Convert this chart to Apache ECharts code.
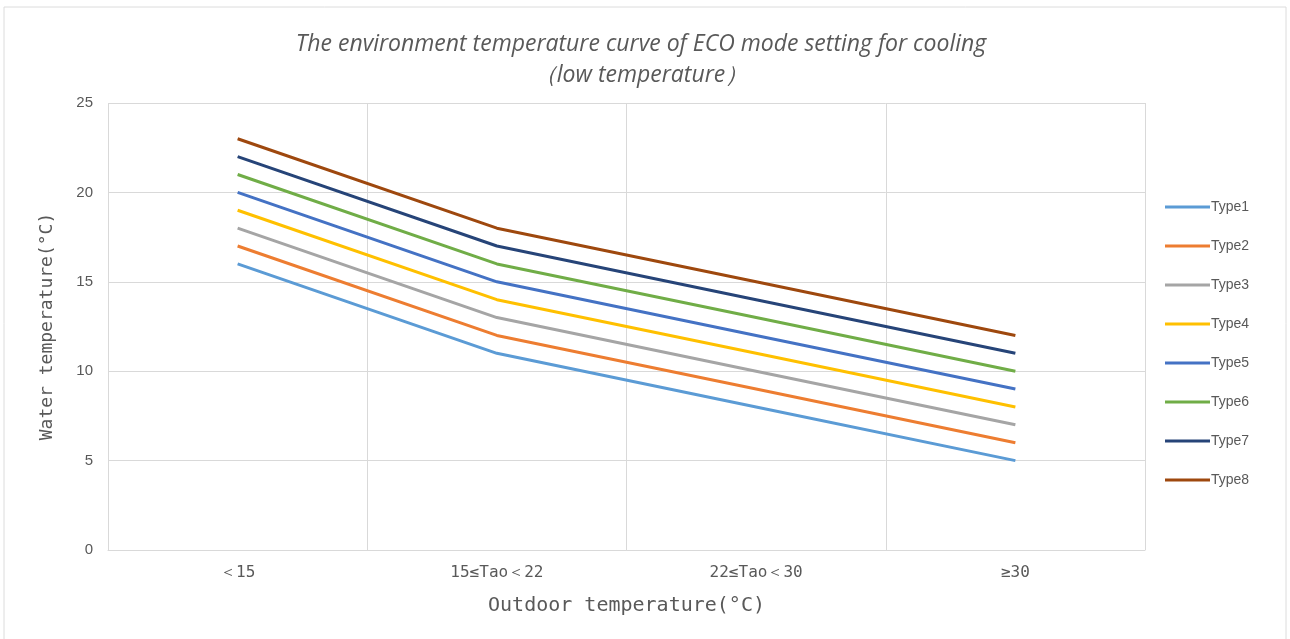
<!DOCTYPE html>
<html>
<head>
<meta charset="utf-8">
<script src="https://cdn.jsdelivr.net/npm/echarts@6/dist/echarts.min.js"></script>
<style>
  html, body { margin: 0; padding: 0; background: #fff; }
  #chart { width: 1290px; height: 639px; }
</style>
</head>
<body>
<div id="chart"></div>
<script>
// Outdoor temperature bands (x axis)
const categories = ['\uFF1C15', '15\u2264Tao\uFF1C22', '22\u2264Tao\uFF1C30', '\u226530'];

// Water temperature set points per type (°C)
const type1 = [16, 11, 8, 5];
const type2 = [17, 12, 9, 6];
const type3 = [18, 13, 10, 7];
const type4 = [19, 14, 11, 8];
const type5 = [20, 15, 12, 9];
const type6 = [21, 16, 13, 10];
const type7 = [22, 17, 14, 11];
const type8 = [23, 18, 15, 12];

const seriesNames = ['Type1', 'Type2', 'Type3', 'Type4', 'Type5', 'Type6', 'Type7', 'Type8'];
const seriesData = [type1, type2, type3, type4, type5, type6, type7, type8];
const palette = ['#5B9BD5', '#ED7D31', '#A5A5A5', '#FFC000', '#4472C4', '#70AD47', '#264478', '#9E480E'];

const chart = echarts.init(document.getElementById('chart'), null, { renderer: 'canvas' });

chart.setOption({
  backgroundColor: '#ffffff',
  animation: false,
  color: palette,
  graphic: [{
    type: 'rect',
    shape: { x: 4, y: 7, width: 1282, height: 640 },
    style: { fill: 'none', stroke: '#dcdcdc', lineWidth: 1 },
    silent: true
  }],
  title: {
    text: 'The environment temperature curve of ECO mode setting for cooling\n\uFF08low temperature\uFF09',
    left: 636,
    textAlign: 'center',
    top: 24,
    textStyle: {
      fontFamily: 'Open Sans',
      fontStyle: 'italic',
      fontWeight: 'normal',
      fontSize: 23,
      lineHeight: 31,
      color: '#595959'
    }
  },
  legend: {
    orient: 'vertical',
    left: 1160,
    top: 195,
    itemWidth: 45,
    itemHeight: 3,
    itemGap: 25,
    icon: 'rect',
    data: seriesNames,
    textStyle: { fontFamily: 'Liberation Sans', fontSize: 14, color: '#595959', padding: [0, 0, 0, -4] }
  },
  grid: { left: 108, right: 145, top: 103, bottom: 89 },
  xAxis: {
    type: 'category',
    data: categories,
    boundaryGap: true,
    name: 'Outdoor temperature(\u00B0C)',
    nameLocation: 'middle',
    nameGap: 46,
    nameTextStyle: { fontFamily: 'DejaVu Sans Mono', fontSize: 20, color: '#595959' },
    axisLine: { show: true, lineStyle: { color: '#d9d9d9', width: 1 } },
    axisTick: { show: false },
    axisLabel: { margin: 15, fontFamily: 'DejaVu Sans Mono', fontSize: 16, color: '#595959' },
    splitLine: { show: true, lineStyle: { color: '#d9d9d9', width: 1 } }
  },
  yAxis: {
    type: 'value',
    min: 0,
    max: 25,
    interval: 5,
    name: 'Water temperature(\u00B0C)',
    nameLocation: 'middle',
    nameGap: 52,
    nameTextStyle: { fontFamily: 'DejaVu Sans Mono', fontSize: 18, color: '#595959' },
    axisLine: { show: false },
    axisTick: { show: false },
    axisLabel: { margin: 15, fontFamily: 'Liberation Sans', fontSize: 15, color: '#595959' },
    splitLine: { show: true, lineStyle: { color: '#d9d9d9', width: 1 } }
  },
  series: seriesNames.map((name, i) => ({
    name: name,
    type: 'line',
    data: seriesData[i],
    symbol: 'none',
    lineStyle: { width: 3, color: palette[i] },
    itemStyle: { color: palette[i] }
  }))
});
</script>
</body>
</html>
